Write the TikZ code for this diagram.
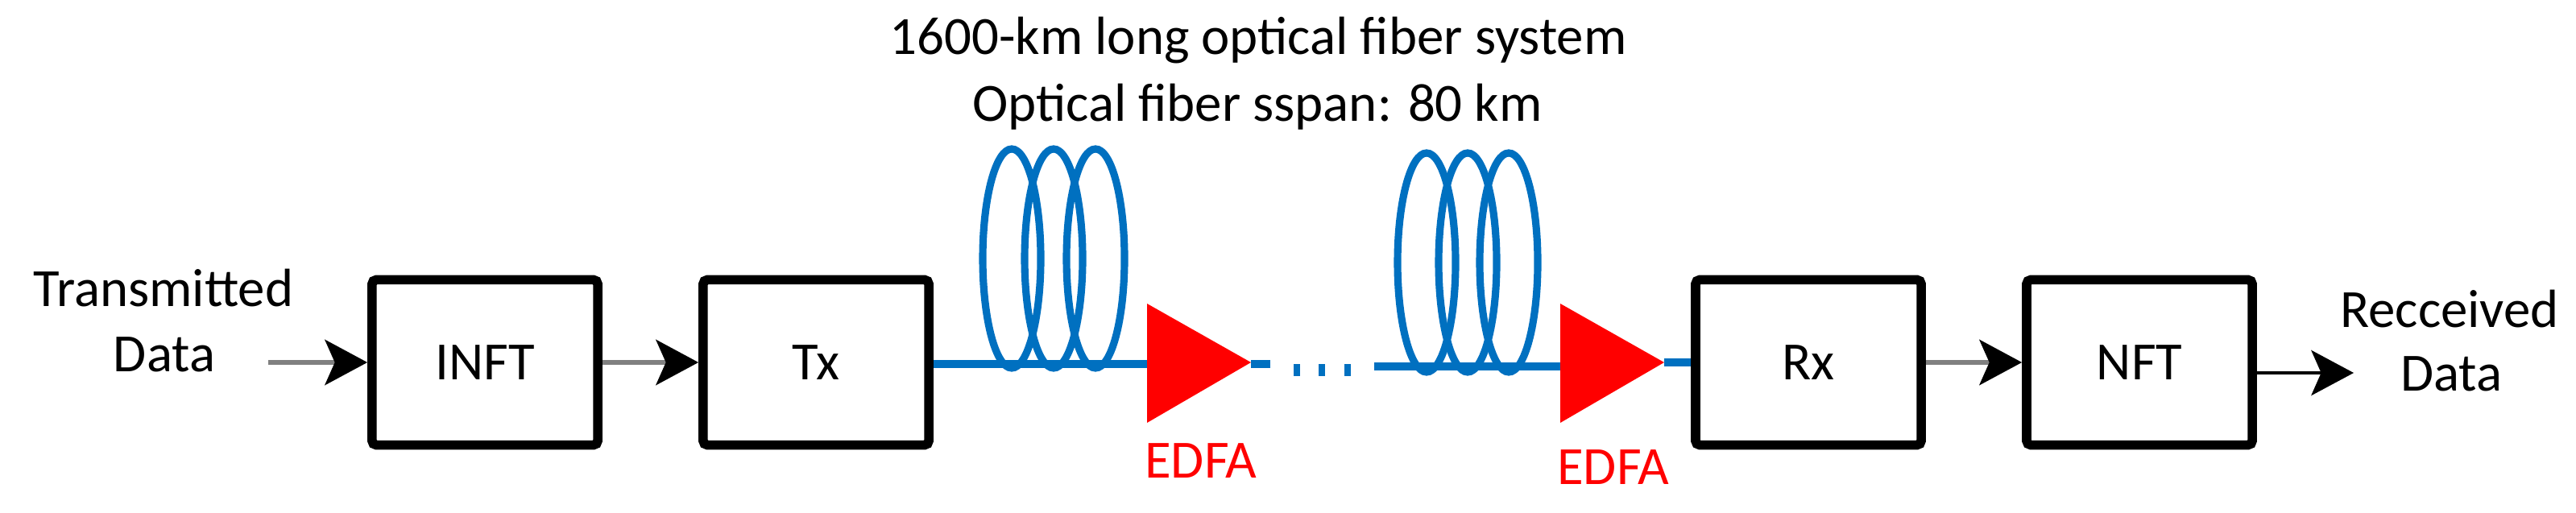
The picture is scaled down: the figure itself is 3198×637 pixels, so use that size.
\documentclass[tikz,border=0pt]{standalone}
\usepackage{fontspec}
\setmainfont{Carlito}
\usetikzlibrary{arrows.meta}
\definecolor{fiber}{HTML}{0070C0}
\tikzset{
  blk/.style={draw=black,line width=3.3pt,rounded corners=1.5pt,minimum width=2.8cm,minimum height=2.05cm,inner sep=0pt,font=\fontsize{19}{22}\selectfont},
  lbl/.style={font=\fontsize{19}{22}\selectfont,inner sep=0pt,align=center},
  elbl/.style={lbl,text=red},
  garrow/.style={draw=gray,line width=1.7pt,-{Stealth[length=15pt,width=16pt,inset=3.5pt,black]}},
  barrow/.style={draw=black,line width=0.9pt,-{Stealth[length=15pt,width=16pt,inset=3.5pt,black]}},
  fib/.style={draw=fiber,line width=3pt},
  coil/.style={draw=fiber,line width=2.6pt},
  amp/.style={fill=red,draw=none}
}
\begin{document}
\begin{tikzpicture}[x=0.01cm,y=-0.01cm]
\useasboundingbox (0,0) rectangle (3198,637);
% title
\node[lbl] (t1) at (1562,50) {1600-km long optical fiber system};
\node[lbl] (t2) at (1561,133) {Optical fiber sspan: 80 km};
% boxes
\node[blk] (inft) at (602,450) {INFT};
\node[blk] (tx) at (1013,450) {Tx};
\node[blk] (rx) at (2245,450) {Rx};
\node[blk] (nft) at (2656,450) {NFT};
% side texts
\node[lbl] (tr1) at (203,358) {Transmitted};
\node[lbl] (tr2) at (204,440) {Data};
\node[lbl] (rc1) at (3041,384) {Recceived};
\node[lbl] (rc2) at (3043,464) {Data};
\coordinate (in) at (333,450);
\coordinate (out) at (2922,463);
\draw[garrow] (in) -- (inft.west);
\draw[garrow] (inft.east) -- (tx.west);
\draw[garrow] (rx.east) -- (nft.west);
\draw[barrow] (nft.east |- out) -- (out);
% fiber span 1
\coordinate (a1) at (1424,377);
\coordinate (a1b) at (1424,525);
\coordinate (a1t) at (1553,450);
\coordinate (e1) at (1577,452);
\draw[fib] (tx.east |- 0,452) -- (a1 |- 0,452);
\draw[fib] (a1t |- 0,452) -- (e1);
\foreach \cx in {1256,1308,1360} \draw[coil] (\cx,321) ellipse (36 and 136);
\fill[amp] (a1) -- (a1t) -- (a1b) -- cycle;
\node[elbl] (ed1) at (1491,572) {EDFA};
% dots
\foreach \dx in {1610,1641,1673} \fill[fiber] (\dx-4,452) rectangle (\dx+4,467);
% fiber span 2
\coordinate (s2) at (1706,455);
\coordinate (a2) at (1937,377);
\coordinate (a2b) at (1937,525);
\coordinate (a2t) at (2066,450);
\draw[fib] (s2) -- (a2 |- s2);
\draw[fib] (a2t) -- (rx.west);
\foreach \cx in {1771,1822,1873} \draw[coil] (\cx,326) ellipse (36 and 136);
\fill[amp] (a2) -- (a2t) -- (a2b) -- cycle;
\node[elbl] (ed2) at (2003,580) {EDFA};
\end{tikzpicture}
\end{document}
